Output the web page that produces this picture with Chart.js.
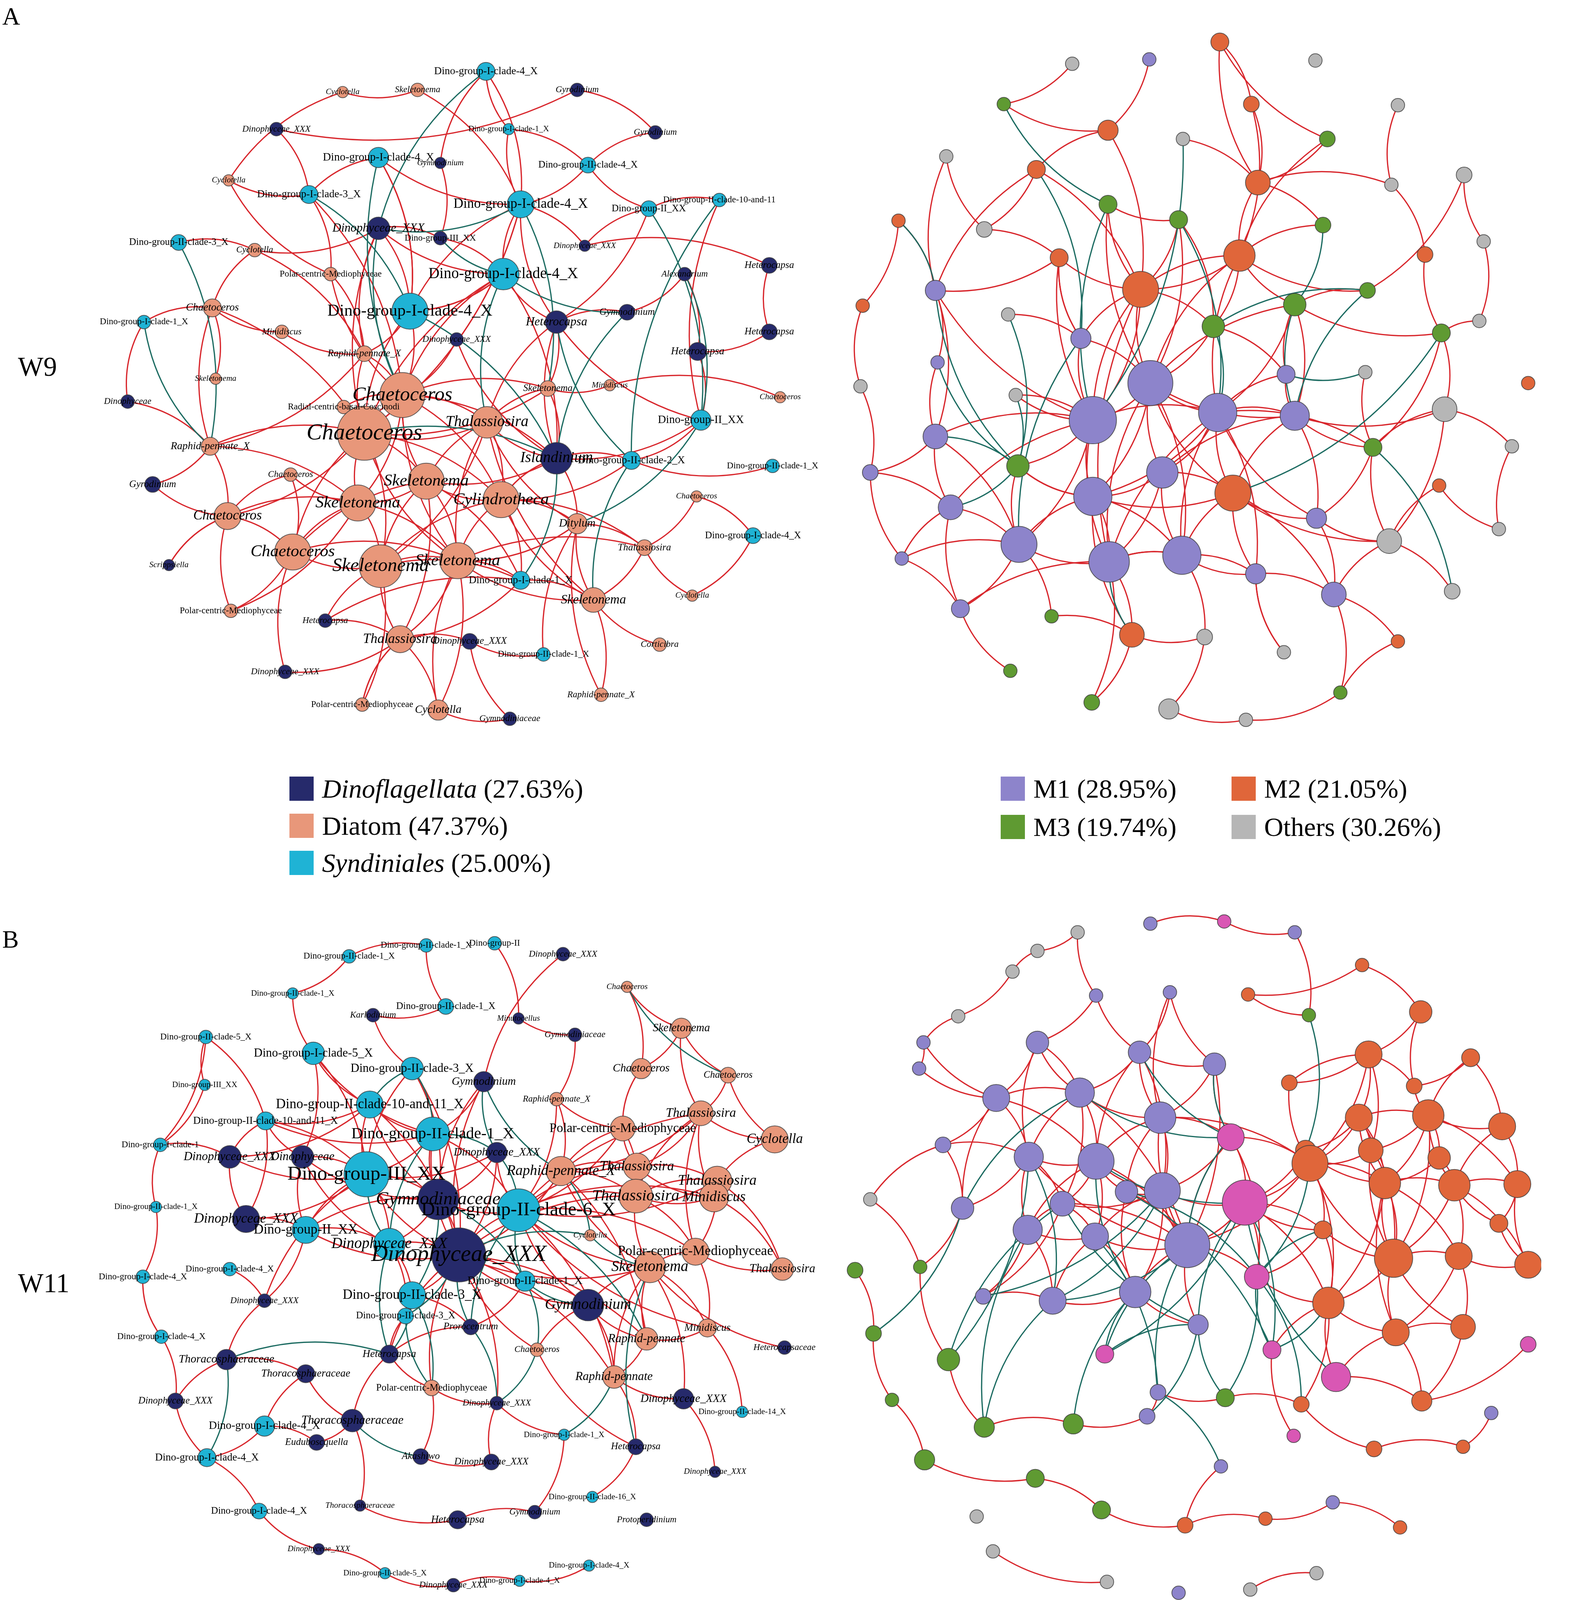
<!DOCTYPE html>
<html>
<head>
<meta charset="utf-8">
<script src="https://cdn.jsdelivr.net/npm/chart.js@4.4.0/dist/chart.umd.min.js"></script>
<style>
  body { margin: 0; background: #fff; }
  #wrap { position: relative; width: 4017px; height: 4517px; font-family: "Liberation Serif", serif; }
  #net { position: absolute; left: 0; top: 0; }
  .txt { position: absolute; color: #000; white-space: nowrap; }
  .leg { position: absolute; font-size: 68px; white-space: pre; display: flex; align-items: center; }
  .sq { display: inline-block; width: 62px; height: 62px; margin-right: 22px; }
</style>
</head>
<body>
<div id="wrap">
  <canvas id="net" width="4017" height="4517"></canvas>
</div>
<script>
// node tuples: [x, y, size, group] in reference units (1394 x 1568 frame)
var aLeftNodes = [
 [422,40,8,'S'],[506,57,6,'D'],[359,57,6,'T'],[290,59,5,'T'],[578,96,6,'D'],[229,93,6,'D'],[443,93,5,'S'],[323,119,9,'S'],
 [380,124,5,'D'],[516,126,7,'S'],[185,140,5,'T'],[259,153,8,'S'],[454,162,12,'S'],[572,166,7,'S'],[637,158,6,'S'],[323,184,10,'D'],
 [380,193,6,'D'],[139,197,7,'S'],[209,204,6,'T'],[513,200,5,'D'],[279,226,6,'T'],[438,226,14,'S'],[605,226,6,'D'],[683,218,7,'D'],
 [170,257,8,'T'],[352,260,16,'S'],[552,261,7,'D'],[487,270,10,'D'],[107,270,6,'S'],[234,279,6,'T'],[683,279,7,'D'],[395,286,6,'D'],
 [310,299,7,'T'],[617,297,8,'D'],[173,322,5,'T'],[479,331,7,'T'],[536,328,5,'T'],[693,339,5,'T'],[92,343,6,'D'],[345,337,20,'T'],
 [291,348,6,'T'],[423,362,14,'T'],[620,360,9,'S'],[310,372,24,'T'],[487,395,14,'D'],[168,384,8,'T'],[556,397,8,'S'],[686,402,6,'S'],
 [115,419,7,'D'],[242,410,6,'T'],[367,416,16,'T'],[436,433,16,'T'],[184,448,12,'T'],[304,436,16,'T'],[616,430,5,'T'],[506,455,9,'T'],
 [668,466,7,'S'],[244,481,16,'T'],[396,489,16,'T'],[325,494,19,'T'],[568,477,7,'T'],[130,493,5,'D'],[454,507,8,'S'],[521,525,11,'T'],
 [612,521,5,'T'],[187,535,6,'T'],[274,544,6,'D'],[343,561,12,'T'],[407,563,7,'D'],[475,575,6,'S'],[582,566,6,'T'],[237,591,6,'D'],
 [528,612,6,'T'],[308,621,6,'T'],[378,626,9,'T'],[444,634,6,'D']
];
var aLeftLabels = [
 'Dino-group-I-clade-4_X','Gyrodinium','Skeletonema','Cyclotella','Gyrodinium','Dinophyceae_XXX','Dino-group-I-clade-1_X','Dino-group-I-clade-4_X',
 'Gymnodinium','Dino-group-II-clade-4_X','Cyclotella','Dino-group-I-clade-3_X','Dino-group-I-clade-4_X','Dino-group-II_XX','Dino-group-II-clade-10-and-11','Dinophyceae_XXX',
 'Dino-group-III_XX','Dino-group-II-clade-3_X','Cyclotella','Dinophyceae_XXX','Polar-centric-Mediophyceae','Dino-group-I-clade-4_X','Alexandrium','Heterocapsa',
 'Chaetoceros','Dino-group-I-clade-4_X','Gymnodinium','Heterocapsa','Dino-group-I-clade-1_X','Minidiscus','Heterocapsa','Dinophyceae_XXX',
 'Raphid-pennate_X','Heterocapsa','Skeletonema','Skeletonema','Minidiscus','Chaetoceros','Dinophyceae','Chaetoceros',
 'Radial-centric-basal-Coscinodi','Thalassiosira','Dino-group-II_XX','Chaetoceros','Islandinium','Raphid-pennate_X','Dino-group-II-clade-2_X','Dino-group-II-clade-1_X',
 'Gyrodinium','Chaetoceros','Skeletonema','Cylindrotheca','Chaetoceros','Skeletonema','Chaetoceros','Ditylum',
 'Dino-group-I-clade-4_X','Chaetoceros','Skeletonema','Skeletonema','Thalassiosira','Scrippsiella','Dino-group-I-clade-1_X','Skeletonema',
 'Cyclotella','Polar-centric-Mediophyceae','Heterocapsa','Thalassiosira','Dinophyceae_XXX','Dino-group-II-clade-1_X','Corticibra','Dinophyceae_XXX',
 'Raphid-pennate_X','Polar-centric-Mediophyceae','Cyclotella','Gymnodiniaceae'
];
var aLeftPos = ['44-40','44-42','44-51','44-54','44-60','44-58','44-53','44-46','44-33','44-25','44-52','44-59','40-42','40-51','40-52','40-33','40-36','40-26','40-22',
 '42-51','42-52','42-56','42-36','42-64','51-54','51-60','51-59','51-52','51-68','52-59','52-56','52-64','52-61','54-58','54-60','54-53','54-50','58-53','58-66','58-72',
 '60-59','60-68','60-74','59-64','59-63','59-75','68-75','68-74','64-73','64-71','56-61','61-65','53-49','53-62','46-49','46-39','25-35','25-30','25-19','33-21','21-11',
 '19-18','11-4','4-3','3-13','8-13','8-26','13-22','22-26','26-16','16-17','17-9','9-1','1-7','7-10','10-14','14-15','15-43','43-47','47-48','45-47','45-43','45-28',
 '45-36','28-27','27-23','23-34','34-31','31-24','24-20','20-14','22-28','26-33','26-44','13-44','12-6','12-8','6-2','2-5','5-10','29-25','29-39','41-44','32-45',
 '32-40','36-37','37-38','57-55','55-61','56-70','70-69','69-76','76-75','63-67','67-68','65-57',
 '44-22','44-13','44-16','44-36','40-45','40-59','40-54','42-59','42-60','42-45','42-28','51-58','51-63','51-45','52-63','52-60','52-45','52-47','54-59','54-46',
 '54-66','58-60','58-59','58-50','60-63','60-67','59-68','59-56','59-61','64-63','64-56','68-63','68-69','53-46','53-50','53-66','46-25','46-33','33-30','26-22',
 '26-13','26-8','22-16','22-17','22-45','13-28','13-20','13-10','28-36','28-14','45-56','45-52','43-28','43-34','1-13','7-13','40-21','40-12','12-21','16-33',
 '16-19','11-12','19-33','40-41','62-53','72-68','74-68','75-59','73-56','64-61'];
var aLeftNeg = ['26-45','22-27','13-16','8-40','12-26','29-46','44-45','1-16','43-56','47-64','40-16','17-22','45-63','22-42','13-36','27-45','23-43','15-47',
 '18-46','28-47','14-43'];

var aRightNodes = [
 [1098,13,8,'2'],[962,33,6,'O'],[1033,29,6,'1'],[1186,30,6,'O'],[1262,71,6,'O'],[1127,70,7,'2'],[899,70,6,'3'],[995,94,9,'2'],
 [1064,102,6,'O'],[1197,102,7,'3'],[846,118,6,'O'],[929,130,8,'2'],[1323,135,7,'O'],[1133,142,11,'2'],[1256,144,6,'O'],[995,162,8,'3'],
 [1060,176,8,'3'],[1193,181,7,'3'],[881,185,7,'O'],[802,177,6,'2'],[1341,196,6,'O'],[950,211,8,'2'],[1116,209,14,'2'],[1287,208,7,'2'],
 [1025,240,16,'2'],[1234,241,7,'3'],[836,241,9,'1'],[1167,254,10,'3'],[769,255,6,'2'],[903,263,6,'O'],[1092,274,10,'3'],[1302,280,8,'3'],
 [970,285,9,'1'],[1337,269,6,'O'],[838,307,6,'1'],[1159,318,8,'1'],[1232,316,6,'O'],[1034,326,20,'1'],[1382,326,6,'2'],[910,337,6,'O'],
 [1096,353,17,'1'],[1305,350,11,'O'],[767,329,6,'O'],[981,360,21,'1'],[1167,356,13,'1'],[836,375,11,'1'],[1239,385,8,'3'],[1367,384,6,'O'],
 [776,408,7,'1'],[912,402,10,'3'],[1045,408,14,'1'],[1300,420,6,'2'],[981,430,17,'1'],[850,440,11,'1'],[1110,427,16,'2'],[1187,450,9,'1'],
 [1355,460,6,'O'],[913,474,16,'1'],[1254,471,11,'O'],[805,487,6,'1'],[996,490,18,'1'],[1063,484,17,'1'],[1131,501,9,'1'],[1203,520,11,'1'],
 [1312,517,7,'O'],[859,533,8,'1'],[943,540,6,'3'],[1017,557,11,'2'],[1084,559,7,'O'],[1262,563,6,'2'],[1157,573,6,'O'],[905,590,6,'3'],
 [980,619,7,'3'],[1051,625,9,'O'],[1122,635,6,'O'],[1209,610,6,'3']
];
var aRightPos = ['38-44','38-41','38-25','38-51','38-53','38-61','38-62','38-45','38-23','38-33','44-41','44-53','44-58','44-46','44-50','44-25','44-22','44-61',
 '41-45','41-55','41-51','41-62','41-23','41-28','41-36','25-8','25-22','25-12','25-16','25-17','25-23','25-61','23-14','23-6','23-10','23-28','23-18','14-6','14-1',
 '14-9','14-15','8-3','8-7','8-12','1-6','1-10','2-7','5-15','15-24','24-32','13-26','13-21','21-34','34-32','32-42','42-47','42-48','48-57','57-52','52-59','59-65',
 '59-64','59-56','64-63','64-70','63-62','62-55','62-61','61-58','61-53','61-68','58-54','58-66','58-60','54-46','54-49','46-35','35-27','27-11','27-20','20-29',
 '29-43','43-49','49-60','60-66','66-72','68-73','68-69','69-74','74-75','71-63','75-76','76-70','55-56','55-45','45-47','47-37','53-51','51-55','33-30','33-22',
 '22-19','19-11','40-44','67-68','50-58','12-19','16-17','17-31',
 '38-55','38-28','38-31','38-16','38-17','44-33','44-40','44-27','44-54','41-53','41-61','41-63','41-56','41-47','53-58','53-62','53-55','53-50','53-68','61-62',
 '61-66','61-73','62-63','62-69','55-63','55-64','55-59','45-56','45-28','45-36','45-42','51-61','51-62','51-45','58-46','58-67','25-33','25-31','25-44','23-31',
 '23-26','23-25','14-10','14-18','22-33','22-27','12-27','36-28','36-31','56-64','56-47','64-76','63-71','60-54','46-27','46-49','54-66','28-26','28-32','32-47',
 '47-59','42-59','50-53'];
var aRightNeg = ['9-44','16-44','17-41','27-50','31-26','26-45','32-55','33-58','40-50','36-37','12-33','65-47','18-28','50-46','31-41','28-45','30-50','7-16',
 '20-27','54-50','68-61','35-50'];

var bLeftNodes = [
 [367,842,6,'S'],[430,840,6,'S'],[296,852,6,'S'],[493,850,6,'D'],[244,886,5,'S'],[385,898,7,'S'],[318,906,6,'D'],[452,909,5,'D'],
 [552,880,5,'T'],[504,924,6,'D'],[602,918,9,'T'],[164,926,6,'S'],[263,941,10,'S'],[354,955,10,'S'],[565,955,9,'T'],[645,961,7,'T'],
 [163,970,5,'S'],[420,967,9,'D'],[315,988,12,'S'],[487,983,6,'T'],[219,1003,8,'S'],[620,996,11,'T'],[548,1010,11,'T'],[373,1015,15,'S'],
 [688,1020,12,'T'],[122,1025,6,'S'],[186,1036,10,'D'],[253,1036,10,'D'],[432,1032,9,'D'],[312,1052,20,'S'],[491,1049,13,'T'],[561,1045,12,'T'],
 [635,1058,13,'T'],[378,1075,18,'D'],[560,1072,15,'T'],[632,1073,13,'T'],[118,1082,5,'S'],[201,1093,12,'D'],[452,1085,19,'S'],[256,1103,12,'S'],
 [518,1108,5,'T'],[333,1116,14,'S'],[615,1123,12,'T'],[397,1126,24,'D'],[573,1137,14,'T'],[695,1139,10,'T'],[106,1146,6,'S'],[186,1139,6,'S'],
 [218,1168,6,'D'],[458,1150,9,'S'],[354,1163,12,'S'],[516,1172,14,'D'],[348,1182,7,'S'],[626,1193,8,'T'],[408,1192,7,'D'],[123,1201,6,'S'],
 [570,1203,10,'T'],[697,1211,6,'D'],[469,1213,6,'T'],[183,1222,9,'D'],[256,1235,8,'D'],[333,1217,8,'D'],[540,1238,10,'T'],[372,1248,7,'T'],
 [432,1262,6,'D'],[604,1258,9,'D'],[136,1260,7,'D'],[658,1270,5,'S'],[299,1278,10,'D'],[218,1283,9,'S'],[494,1291,5,'S'],[560,1302,7,'D'],
 [165,1312,8,'S'],[266,1298,7,'D'],[362,1311,7,'D'],[427,1316,7,'D'],[633,1325,5,'D'],[306,1356,5,'D'],[520,1348,5,'S'],[213,1361,7,'S'],
 [396,1369,8,'D'],[467,1362,6,'D'],[570,1369,6,'D'],[268,1396,5,'D'],[329,1418,5,'S'],[392,1429,6,'D'],[453,1425,5,'S'],[517,1411,5,'S']
];
var bLeftLabels = [
 'Dino-group-II-clade-1_X','Dino-group-II','Dino-group-II-clade-1_X','Dinophyceae_XXX','Dino-group-II-clade-1_X','Dino-group-II-clade-1_X','Karlodinium','Minutocellus',
 'Chaetoceros','Gymnodiniaceae','Skeletonema','Dino-group-II-clade-5_X','Dino-group-I-clade-5_X','Dino-group-II-clade-3_X','Chaetoceros','Chaetoceros',
 'Dino-group-III_XX','Gymnodinium','Dino-group-II-clade-10-and-11_X','Raphid-pennate_X','Dino-group-II-clade-10-and-11_X','Thalassiosira','Polar-centric-Mediophyceae','Dino-group-II-clade-1_X',
 'Cyclotella','Dino-group-I-clade-1','Dinophyceae_XXX','Dinophyceae','Dinophyceae_XXX','Dino-group-III_XX','Raphid-pennate_X','Thalassiosira',
 'Thalassiosira','Gymnodiniaceae','Thalassiosira','Minidiscus','Dino-group-II-clade-1_X','Dinophyceae_XXX','Dino-group-II-clade-6_X','Dino-group-II_XX',
 'Cyclotella','Dinophyceae_XXX','Polar-centric-Mediophyceae','Dinophyceae_XXX','Skeletonema','Thalassiosira','Dino-group-I-clade-4_X','Dino-group-I-clade-4_X',
 'Dinophyceae_XXX','Dino-group-II-clade-1_X','Dino-group-II-clade-3_X','Gymnodinium','Dino-group-II-clade-3_X','Minidiscus','Prorocentrum','Dino-group-I-clade-4_X',
 'Raphid-pennate','Heterocapsaceae','Chaetoceros','Thoracosphaeraceae','Thoracosphaeraceae','Heterocapsa','Raphid-pennate','Polar-centric-Mediophyceae',
 'Dinophyceae_XXX','Dinophyceae_XXX','Dinophyceae_XXX','Dino-group-II-clade-14_X','Thoracosphaeraceae','Dino-group-I-clade-4_X','Dino-group-I-clade-1_X','Heterocapsa',
 'Dino-group-I-clade-4_X','Euduboscquella','Akashiwo','Dinophyceae_XXX','Dinophyceae_XXX','Thoracosphaeraceae','Dino-group-II-clade-16_X','Dino-group-I-clade-4_X',
 'Heterocapsa','Gymnodinium','Protoperidinium','Dinophyceae_XXX','Dino-group-II-clade-5_X','Dinophyceae_XXX','Dino-group-I-clade-4_X','Dino-group-I-clade-4_X'
];
var bLeftPos = ['44-39','44-34','44-30','44-42','44-24','44-31','44-35','44-45','44-51','44-29','44-50','44-52','44-57','44-62','39-34','39-31','39-35','39-45','39-32',
 '39-23','39-22','39-52','39-43','34-30','34-24','34-29','34-42','30-24','30-19','30-28','30-27','30-40','30-38','30-21','24-19','24-14','24-13','24-18','31-23','31-20',
 '31-32','35-32','35-33','35-36','35-43','32-22','32-33','22-25','22-11','22-16','23-15','15-11','11-9','33-36','36-46','43-46','45-54','45-57','57-63','63-66','66-77',
 '45-58','54-68','52-59','52-63','59-72','72-79','12-17','17-26','26-37','37-47','47-56','56-67','67-73','73-80','80-84','84-85','85-86','86-87','87-88','60-61','61-69',
 '69-74','74-70','70-73','62-64','64-75','75-76','76-65','65-71','71-82','82-81','81-78','78-69','40-49','49-48','38-27','28-13','13-5','5-3','3-1','1-6','6-7','7-14',
 '2-8','8-10','10-20','4-18','19-21','21-12','42-53','53-51','51-55','55-62','12-26','22-43','33-25','11-16','9-15',
 '44-19','44-18','44-14','44-40','44-59','44-63','44-64','44-65','39-24','39-29','39-20','39-36','39-33','39-63','39-54','34-19','34-14','34-18','34-40','34-28',
 '30-13','30-14','30-29','30-42','30-49','24-21','31-22','31-35','31-45','31-57','35-45','35-22','35-23','32-23','32-36','45-43','45-63','45-66','43-33','43-54',
 '52-57','52-45','52-50','42-51','42-40','42-28','40-38','40-28','38-21','27-21','27-26','28-21','13-19','19-27','62-69','62-53','61-70','60-49','60-67','50-55',
 '57-54','63-72','64-65','23-20','22-36','33-46','16-25'];
var bLeftNeg = ['44-53','44-55','34-51','39-50','50-59','30-42','24-29','18-29','29-39','42-62','55-65','62-60','51-64','41-45','31-41','14-19','39-57','9-16',
 '34-50','39-55','44-41','50-52','59-65','18-31','14-24','24-42','51-62','53-64','63-71','45-72','60-73','69-75'];

var bRightNodes = [
 [967,830,6,'O'],[1034,822,6,'1'],[1102,820,6,'4'],[1167,830,6,'1'],[930,847,6,'O'],[907,866,6,'O'],[1229,860,6,'2'],[857,907,6,'O'],
 [984,888,6,'1'],[1052,885,6,'1'],[1124,887,6,'2'],[1180,906,6,'3'],[1283,903,10,'2'],[930,931,10,'1'],[825,931,6,'1'],[892,982,12,'1'],
 [1024,940,10,'1'],[1093,951,10,'1'],[821,955,6,'1'],[1235,942,12,'2'],[1329,945,8,'2'],[969,977,13,'1'],[1162,968,7,'2'],[1277,971,7,'2'],
 [1043,1000,14,'1'],[1226,1000,12,'2'],[1290,998,14,'2'],[1358,1008,12,'2'],[843,1025,7,'1'],[922,1036,13,'1'],[984,1040,16,'1'],[1108,1018,12,'4'],
 [1177,1030,9,'2'],[1237,1030,11,'2'],[1300,1037,10,'2'],[1181,1042,16,'2'],[1045,1067,16,'1'],[1121,1078,20,'4'],[1250,1060,14,'2'],[1314,1062,14,'2'],
 [1372,1061,12,'2'],[776,1075,6,'O'],[861,1083,10,'1'],[953,1079,11,'1'],[1012,1068,10,'1'],[921,1103,13,'1'],[983,1109,12,'1'],[1068,1117,20,'1'],
 [1193,1103,8,'2'],[1355,1097,8,'2'],[1258,1129,17,'2'],[1318,1127,12,'2'],[1382,1135,12,'2'],[822,1137,6,'3'],[1132,1146,11,'4'],[944,1168,12,'1'],
 [1020,1160,14,'1'],[880,1164,7,'1'],[1198,1170,14,'2'],[1260,1197,12,'2'],[1322,1192,11,'2'],[762,1140,7,'3'],[1078,1190,9,'1'],[1382,1208,7,'4'],
 [779,1198,7,'3'],[848,1222,10,'3'],[992,1217,8,'4'],[1146,1213,8,'4'],[1205,1238,13,'4'],[1041,1252,7,'1'],[1103,1257,8,'3'],[1173,1263,7,'2'],
 [1284,1260,9,'2'],[796,1259,6,'3'],[881,1284,9,'3'],[963,1281,9,'3'],[1031,1274,7,'1'],[1348,1271,6,'1'],[1166,1292,6,'4'],[1240,1304,7,'2'],
 [826,1314,9,'3'],[928,1331,8,'3'],[1099,1320,6,'1'],[1322,1302,6,'2'],[989,1360,8,'3'],[874,1366,6,'O'],[1066,1374,7,'2'],[1140,1368,6,'2'],
 [1202,1353,6,'1'],[1264,1376,6,'2'],[889,1398,6,'O'],[994,1426,6,'O'],[1126,1433,6,'O'],[1187,1418,6,'O'],[1060,1436,6,'1']
];
var bRightPos = ['48-37','48-31','48-25','48-44','48-47','48-57','48-30','48-22','37-31','37-25','37-45','37-17','31-30','31-22','31-25','31-16','31-44','30-16',
 '30-22','30-46','30-43','22-16','22-14','22-17','25-17','25-18','25-32','16-14','16-29','14-9','9-1','17-10','18-10','46-47','46-56','47-56','47-57','57-63','44-58',
 '43-29','43-54','19-15','15-8','8-6','6-5','5-1','2-3','3-4','4-12','51-39','51-52','51-60','51-59','51-40','51-36','39-34','39-40','39-27','39-26','39-36','36-33',
 '36-26','36-49','26-20','26-34','20-13','20-24','24-27','27-21','27-28','28-41','41-40','40-52','52-53','53-50','50-41','52-61','61-60','60-59','59-49','49-38',
 '59-69','69-73','73-64','60-73','35-27','35-40','23-36','23-20','13-7','7-11','11-12','38-48','38-32','38-55','55-59','32-36','48-36','25-36','37-38','62-65','65-74',
 '74-81','81-82','82-85','85-87','87-88','88-89','89-90','94-93','42-54','66-75','75-76','76-77','70-77','70-71','71-72','72-80','80-84','84-78','79-68','83-87','66-54',
 '91-92','16-19','29-42','14-22','34-27','40-28','39-51','26-39',
 '48-45','48-55','48-63','48-32','48-18','37-44','37-47','37-57','37-32','31-17','31-45','31-47','31-46','30-44','30-29','30-14','22-25','22-44','25-45','25-10',
 '16-43','16-15','44-46','44-47','45-57','46-58','56-58','57-56','17-18','17-9','18-32','32-55','38-36','38-59','38-33','38-49','51-61','51-49','51-26','51-34',
 '51-27','39-52','39-35','39-33','39-60','39-59','36-34','36-59','36-20','26-27','27-40','27-41','40-50','40-53','41-53','52-60','60-69','61-73','34-20','20-23',
 '24-21','21-28','13-24','59-72','59-68','49-55','33-26'];
var bRightNeg = ['48-56','48-67','37-58','38-69','38-68','55-68','55-71','31-38','45-55','44-63','47-70','57-76','67-63','63-71','30-66','56-75','32-22','49-55',
 '59-68','46-75','43-65','17-32','12-33','18-32','70-83','48-70','37-56','31-57','38-67','38-63','55-72','44-66','30-56','57-67','45-68','22-43','36-55','32-48','63-77'];

var legendA1 = ['Dinoflagellata (27.63%)', 'Diatom (47.37%)', 'Syndiniales (25.00%)'];
var legendA2 = ['M1 (28.95%)', 'M2 (21.05%)', 'M3 (19.74%)', 'Others (30.26%)'];
var legendB1 = ['Dinoflagellata (37.93%)', 'Diatom (25.29%)', 'Syndiniales (36.78%)'];
var legendB2 = ['M1 (32.18%)', 'M2 (31.03%)', 'M3 (17.24%)', 'M4 (10.34%)', 'Others (30.26%)'];

var S = 4017 / 1394;
var fills = { D: '#262a6b', T: '#e8977a', S: '#1fb3d5', '1': '#8d84cb', '2': '#e0663a', '3': '#5f9a32', '4': '#d957b4', O: '#b6b6b6' };
var RED = '#d8262c', TEAL = '#1d6c62';

function bubbleSet(nodes) {
    return {
        type: 'bubble',
        data: nodes.map(function (n) { return { x: n[0], y: n[1], r: n[2] * S }; }),
        backgroundColor: nodes.map(function (n) { return fills[n[3]]; }),
        borderColor: 'rgba(60,60,60,0.8)',
        borderWidth: 2
    };
}

var panels = [
    { nodes: aLeftNodes, labels: aLeftLabels, pos: aLeftPos, neg: aLeftNeg },
    { nodes: aRightNodes, labels: null, pos: aRightPos, neg: aRightNeg },
    { nodes: bLeftNodes, labels: bLeftLabels, pos: bLeftPos, neg: bLeftNeg },
    { nodes: bRightNodes, labels: null, pos: bRightPos, neg: bRightNeg }
];

var edgePlugin = {
    id: 'edges',
    beforeDatasetsDraw: function (chart) {
        var c = chart.ctx, xs = chart.scales.x, ys = chart.scales.y;
        c.save();
        c.lineWidth = 3.2;
        panels.forEach(function (p) {
            [[p.pos, RED], [p.neg, TEAL]].forEach(function (grp) {
                c.strokeStyle = grp[1];
                grp[0].forEach(function (e, k) {
                    var ab = e.split('-'), a = p.nodes[ab[0] - 1], b = p.nodes[ab[1] - 1];
                    if (!a || !b) return;
                    var x1 = xs.getPixelForValue(a[0]), y1 = ys.getPixelForValue(a[1]);
                    var x2 = xs.getPixelForValue(b[0]), y2 = ys.getPixelForValue(b[1]);
                    var bend = (k % 2 ? 0.18 : -0.18);
                    var cx = (x1 + x2) / 2 - (y2 - y1) * bend, cy = (y1 + y2) / 2 + (x2 - x1) * bend;
                    c.beginPath();
                    c.moveTo(x1, y1);
                    c.quadraticCurveTo(cx, cy, x2, y2);
                    c.stroke();
                });
            });
        });
        c.restore();
    },
    afterDatasetsDraw: function (chart) {
        var c = chart.ctx, xs = chart.scales.x, ys = chart.scales.y;
        c.save();
        c.fillStyle = '#000';
        c.textAlign = 'center';
        c.textBaseline = 'middle';
        panels.forEach(function (p) {
            if (!p.labels) return;
            p.nodes.forEach(function (n, i) {
                var t = p.labels[i];
                var fs = (4 + n[2] * 0.68) * S;
                var plain = /^(Dino-group|Polar|Radial)/.test(t);
                c.font = (plain ? '' : 'italic ') + fs.toFixed(0) + 'px "Liberation Serif"';
                c.fillText(t, xs.getPixelForValue(n[0]), ys.getPixelForValue(n[1]));
            });
        });
        c.restore();
    }
};

new Chart(document.getElementById('net'), {
    type: 'bubble',
    data: { datasets: panels.map(function (p) { return bubbleSet(p.nodes); }) },
    options: {
        responsive: false,
        animation: false,
        layout: { padding: 0 },
        plugins: { legend: { display: false }, tooltip: { enabled: false } },
        scales: {
            x: { type: 'linear', min: 0, max: 1394, display: false },
            y: { type: 'linear', min: 0, max: 1568, reverse: true, display: false }
        }
    },
    plugins: [edgePlugin]
});

// text and legends
var wrap = document.getElementById('wrap');
function put(html, x, y, size, cls) {
    var d = document.createElement('div');
    d.className = cls || 'txt';
    d.style.left = (x * S) + 'px';
    d.style.top = (y * S) + 'px';
    if (size) d.style.fontSize = (size * S) + 'px';
    d.innerHTML = html;
    wrap.appendChild(d);
}
put('A', 2, 2, 22);
put('B', 2, 822, 22);
put('W9', 16, 312, 24);
put('W11', 16, 1126, 24);

function legendItem(text, color, x, y, italicWord) {
    var label = italicWord ? text.replace(/^(\S+)/, '<i>$1</i>') : text;
    put('<span class="sq" style="background:' + color + '"></span><span>' + label + '</span>', x, y, null, 'leg');
}
var colsA1 = [fills.D, fills.T, fills.S];
legendA1.forEach(function (t, i) { legendItem(t, colsA1[i], 257, 687 + i * 33, i !== 1); });
var colsA2 = [fills['1'], fills['2'], fills['3'], fills.O];
legendA2.forEach(function (t, i) { legendItem(t, colsA2[i], i % 2 ? 1094 : 889, 687 + Math.floor(i / 2) * 34); });
legendB1.forEach(function (t, i) { legendItem(t, colsA1[i], 252, 1474 + i * 33, i !== 1); });
var colsB2 = [fills['1'], fills['2'], fills['3'], fills['4'], fills.O];
legendB2.forEach(function (t, i) { legendItem(t, colsB2[i], i % 2 ? 1114 : 904, 1474 + Math.floor(i / 2) * 32); });
</script>
</body>
</html>
